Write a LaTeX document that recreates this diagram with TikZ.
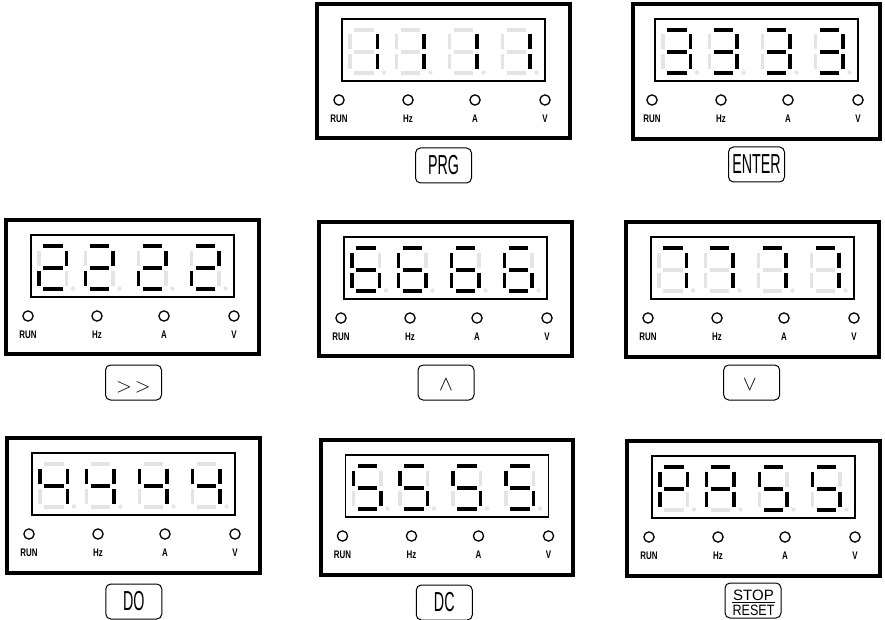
\documentclass[tikz,border=0pt]{standalone}
\usepackage{fontspec}
\setmainfont{Liberation Sans}
\newfontfamily\btnfont[FakeStretch=0.52]{Liberation Sans}
\newfontfamily\lblfont[FakeStretch=0.72]{Liberation Sans Bold}
\newfontfamily\rstfont[FakeStretch=0.84]{Liberation Sans}
\definecolor{segoffc}{HTML}{E4E4E4}
\tikzset{
  panelbox/.style={draw, line width=3.3pt, rectangle, inner sep=0pt, outer sep=0pt, anchor=north west},
  dispbox/.style={draw, line width=1.3pt, rectangle, inner sep=0pt, outer sep=0pt, anchor=north west},
  segon/.style={line width=3.7pt, draw=black},
  segoff/.style={line width=3.7pt, draw=segoffc},
  ledc/.style={circle, draw, line width=1.3pt, minimum size=10.2pt, inner sep=0pt, outer sep=0pt},
  ledlbl/.style={font=\lblfont\fontsize{11}{11}\selectfont, inner sep=0pt, anchor=base},
  btn/.style={draw, line width=1pt, rounded corners=5pt, minimum width=56pt, minimum height=35pt, inner sep=0pt, outer sep=0pt, anchor=north, font=\btnfont\fontsize{27.5}{28}\selectfont},
  symtxt/.style={inner sep=0pt},
  stoptxt/.style={inner sep=0pt, anchor=base, font=\fontsize{15}{15}\selectfont},
}
\newcommand\sevdig[3]{%
  \gdef\sA{segoff}\gdef\sB{segoff}\gdef\sC{segoff}\gdef\sD{segoff}%
  \gdef\sE{segoff}\gdef\sF{segoff}\gdef\sG{segoff}%
  \foreach \segname in {#3}{\expandafter\gdef\csname s\segname\endcsname{segon}}%
  \begin{scope}[shift={(#1,#2)}]
    \draw[\sA] (4,11) -- (23.5,11);
    \draw[\sG] (4,33) -- (23.5,33);
    \draw[\sD] (4,54) -- (23.5,54);
    \draw[\sF] (0,15.5) -- (0,30.5);
    \draw[\sE] (0,35.5) -- (0,50.5);
    \draw[\sB] (27.5,15.5) -- (27.5,30.5);
    \draw[\sC] (27.5,35.5) -- (27.5,50.5);
    \fill[segoffc] (34,53.5) circle (2.1);
  \end{scope}}
\newcommand\dpanel[9]{%
  \node[panelbox, minimum width=#4pt, minimum height=#5pt] (#1) at (#2,#3) {};
  \pgfmathsetmacro\pnlL{#2+(#4-203)/2}%
  \pgfmathsetmacro\pnlT{#3+15}%
  \node[dispbox, minimum width=203pt, minimum height=62pt] (#1d) at (\pnlL,\pnlT) {};
  \pgfmathsetmacro\pdx{\pnlL+8}\sevdig{\pdx}{\pnlT}{#6}
  \pgfmathsetmacro\pdx{\pnlL+54.5}\sevdig{\pdx}{\pnlT}{#7}
  \pgfmathsetmacro\pdx{\pnlL+107.5}\sevdig{\pdx}{\pnlT}{#8}
  \pgfmathsetmacro\pdx{\pnlL+160.5}\sevdig{\pdx}{\pnlT}{#9}
  \pgfmathsetmacro\ply{#3+96}%
  \pgfmathsetmacro\pty{#3+118.5}%
  \pgfmathsetmacro\plx{\pnlL-3}%
  \node[ledc] (#1r) at (\plx,\ply) {};
  \node[ledlbl] (#1rl) at (\plx,\pty) {RUN};
  \pgfmathsetmacro\plx{\pnlL+66}%
  \node[ledc] (#1h) at (\plx,\ply) {};
  \node[ledlbl] (#1hl) at (\plx,\pty) {Hz};
  \pgfmathsetmacro\plx{\pnlL+133}%
  \node[ledc] (#1a) at (\plx,\ply) {};
  \node[ledlbl] (#1al) at (\plx,\pty) {A};
  \pgfmathsetmacro\plx{\pnlL+203}%
  \node[ledc] (#1v) at (\plx,\ply) {};
  \node[ledlbl] (#1vl) at (\plx,\pty) {V};
}
\begin{document}
\begin{tikzpicture}[x=1pt,y=-1pt]
\useasboundingbox (0,0) rectangle (885,620);
\fill[white] (0,0) rectangle (885,620);
% row 1
\dpanel{P1}{317}{4}{253}{134}{B,C}{B,C}{B,C}{B,C}
\dpanel{P2}{633}{4}{247}{135}{A,B,C,D,G}{A,B,C,D,G}{A,B,C,D,G}{A,B,C,D,G}
% row 2
\dpanel{P3}{6}{220}{253}{134}{A,B,G,E,D}{A,B,G,E,D}{A,B,G,E,D}{A,B,G,E,D}
\dpanel{P4}{319}{222}{253}{134}{A,F,G,E,C,D}{A,F,G,E,C,D}{A,F,G,E,C,D}{A,F,G,E,C,D}
\dpanel{P5}{626}{222}{253}{135}{A,B,C}{A,B,C}{A,B,C}{A,B,C}
% row 3
\dpanel{P6}{7}{438}{253}{135}{F,G,B,C}{F,G,B,C}{F,G,B,C}{F,G,B,C}
\dpanel{P7}{321}{440}{252}{135}{A,F,G,C,D}{A,F,G,C,D}{A,F,G,C,D}{A,F,G,C,D}
\dpanel{P8}{627}{441}{253}{135}{A,B,F,G,E}{A,B,C,E,F,G}{A,F,G,C,D}{A,F,G,C,D}
% buttons
\node[btn] (b1) at (443.5,148) {PRG};
\node[btn] (b2) at (756.5,147) {ENTER};
\node[btn] (b3) at (133.5,365) {};
\node[symtxt, font=\fontsize{21.5}{22}\selectfont] (b3t) at ([yshift=-5pt]b3.center) {$>\kern3pt>$};
\node[btn] (b4) at (446,365) {};
\node[symtxt, font=\fontsize{20}{20}\selectfont] (b4t) at ([yshift=-2pt]b4.center) {$\wedge$};
\node[btn] (b5) at (751.7,365) {};
\node[symtxt, font=\fontsize{20}{20}\selectfont] (b5t) at ([xshift=-2pt,yshift=-2pt]b5.center) {$\vee$};
\node[btn] (b6) at (133.8,584) {DO};
\node[btn] (b7) at (444.3,585) {DC};
\node[btn] (b8) at (753,583) {};
\node[stoptxt] (b8s) at (753.5,600.7) {STOP};
\node[stoptxt, font=\rstfont\fontsize{15}{15}\selectfont] (b8r) at (753.5,615.7) {RESET};
\draw[line width=1.2pt] ([xshift=-1pt,yshift=-1.6pt]b8s.base west) -- ([xshift=1pt,yshift=-1.6pt]b8s.base east);
\end{tikzpicture}
\end{document}
